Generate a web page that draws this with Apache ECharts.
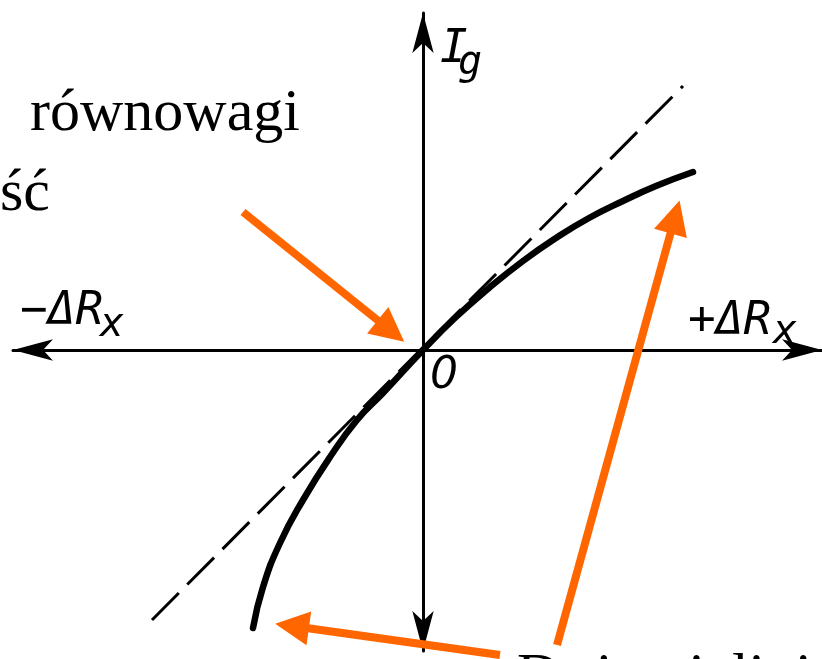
<!DOCTYPE html>
<html>
<head>
<meta charset="utf-8">
<script src="https://cdn.jsdelivr.net/npm/echarts@6/dist/echarts.min.js"></script>
<style>
  html, body { margin: 0; padding: 0; background: #ffffff; }
  #chart { width: 822px; height: 659px; }
</style>
</head>
<body>
<div id="chart"></div>
<script>
// Galvanometer current Ig as a function of the bridge detuning ΔRx
const deltaRx   = [-1.70, -1.60, -1.43, -1.20, -0.93, -0.66, -0.40, 0, 0.33, 0.66, 1.00, 1.33, 1.66, 2.00, 2.33, 2.70];
const currentIg = [-2.78, -2.37, -1.93, -1.50, -1.07, -0.70, -0.43, 0, 0.33, 0.62, 0.89, 1.12, 1.32, 1.49, 1.64, 1.78];

// Linear approximation through the balance point
const tangentRx = [-2.71, 2.60];
const tangentIg = [-2.70, 2.64];

// Pointer arrows (start and head centre, in ΔRx / Ig units)
const pointerFrom = [[-1.80, 1.38], [1.34, -2.95], [0.77, -3.05]];
const pointerTo   = [[-0.32, 0.19], [2.52, 1.33], [-1.31, -2.76]];

// Caption fragments
const captionLines = ['równowagi', 'ść'];
const bottomCaption = 'Duża nieliniowość';

const curveData = deltaRx.map((x, i) => [x, currentIg[i]]);
const tangentData = tangentRx.map((x, i) => [x, tangentIg[i]]);
const arrowData = pointerFrom.map((f, i) => ({ coords: [f, pointerTo[i]] }));

const labelFont = 'italic 46px "DejaVu Sans Mono"';
const subFont = 'italic 40px "DejaVu Sans Mono"';
const serif = '60px "Liberation Serif"';

const axisLineStyle = {
  show: true, onZero: true, symbol: ['arrow', 'arrow'], symbolSize: [16, 40],
  lineStyle: { color: '#000', width: 3 }
};

const chart = echarts.init(document.getElementById('chart'), null, { renderer: 'canvas' });

chart.setOption({
  animation: false,
  backgroundColor: '#ffffff',
  grid: { left: 13, right: 0, top: 13, bottom: 8 },
  xAxis: {
    type: 'value', min: -4.10, max: 3.99,
    axisLine: axisLineStyle,
    axisTick: { show: false }, axisLabel: { show: false }, splitLine: { show: false }
  },
  yAxis: {
    type: 'value', min: -3.01, max: 3.37,
    axisLine: axisLineStyle,
    axisTick: { show: false }, axisLabel: { show: false }, splitLine: { show: false }
  },
  series: [
    {
      type: 'line', data: tangentData, showSymbol: false, clip: false, z: 2,
      lineStyle: { color: '#000', width: 3, type: [38, 12] }
    },
    {
      type: 'line', data: curveData, smooth: true, showSymbol: false, clip: false, z: 3,
      lineStyle: { color: '#000', width: 6.5, cap: 'round' }
    },
    {
      type: 'lines', coordinateSystem: 'cartesian2d', clip: false, z: 5,
      symbol: ['none', 'triangle'], symbolSize: 34,
      lineStyle: { color: '#ff6600', width: 8, opacity: 1, curveness: 0 },
      data: arrowData
    }
  ],
  graphic: [
    { type: 'text', style: { text: captionLines[0], x: 30, y: 114, font: serif, fill: '#000', verticalAlign: 'middle' } },
    { type: 'text', style: { text: captionLines[1], x: 0, y: 194, font: serif, fill: '#000', verticalAlign: 'middle' } },
    { type: 'text', style: { text: bottomCaption, x: 517, y: 678, font: serif, fill: '#000', verticalAlign: 'middle' } },
    // axis names
    { type: 'text', style: { text: 'I', x: 440, y: 50, font: labelFont, fill: '#000', verticalAlign: 'middle' } },
    { type: 'text', style: { text: 'g', x: 458, y: 64, font: subFont, fill: '#000', verticalAlign: 'middle' } },
    { type: 'text', style: { text: '−ΔR', x: 20, y: 312, font: labelFont, fill: '#000', verticalAlign: 'middle' } },
    { type: 'text', style: { text: 'x', x: 100, y: 326, font: subFont, fill: '#000', verticalAlign: 'middle' } },
    { type: 'text', style: { text: '+ΔR', x: 688, y: 322, font: labelFont, fill: '#000', verticalAlign: 'middle' } },
    { type: 'text', style: { text: 'x', x: 773, y: 333, font: subFont, fill: '#000', verticalAlign: 'middle' } },
    { type: 'text', style: { text: '0', x: 430, y: 377, font: 'italic 44px "DejaVu Sans"', fill: '#000', verticalAlign: 'middle' } }
  ]
});
</script>
</body>
</html>
